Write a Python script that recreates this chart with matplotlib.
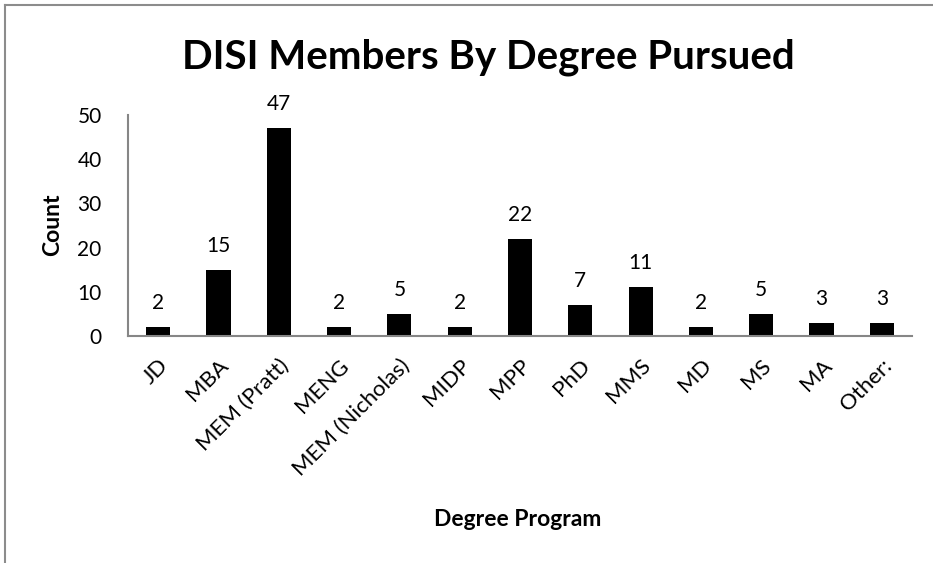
import matplotlib
matplotlib.use('Agg')
import matplotlib.pyplot as plt
from matplotlib.lines import Line2D

plt.rcParams['font.family'] = ['Lato', 'DejaVu Sans']

degrees = ['JD', 'MBA', 'MEM (Pratt)', 'MENG', 'MEM (Nicholas)', 'MIDP', 'MPP',
           'PhD', 'MMS', 'MD', 'MS', 'MA', 'Other:']
counts = [2, 15, 47, 2, 5, 2, 22, 7, 11, 2, 5, 3, 3]
yticks = [0, 10, 20, 30, 40, 50]

W, H = 933, 563
fig = plt.figure(figsize=(W / 100, H / 100), dpi=100)
ax = fig.add_axes([128 / W, 1 - 336 / H, (912 - 128) / W, (336 - 115) / H])

x = range(len(degrees))
bars = ax.bar(x, counts, width=0.4, color='black')
ax.set_xlim(-0.5, len(degrees) - 0.5)
ax.set_ylim(0, 50)
ax.set_yticks(yticks)
ax.set_yticklabels([str(t) for t in yticks], fontsize=15)
ax.set_xticks(list(x))
ax.set_xticklabels(degrees, fontsize=16, rotation=45, ha='right',
                   rotation_mode='anchor')
ax.tick_params(axis='y', length=0, pad=19)
ax.tick_params(axis='x', length=0, pad=14)

for s in ['top', 'right']:
    ax.spines[s].set_visible(False)
for s in ['left', 'bottom']:
    ax.spines[s].set_color('#868686')
    ax.spines[s].set_linewidth(1.5)

for b, v in zip(bars, counts):
    ax.annotate(str(v), (b.get_x() + b.get_width() / 2, v), xytext=(0, 13),
                textcoords='offset points', ha='center', va='baseline', fontsize=15)

fig.text(53 / W, 1 - 225 / H, 'Count', ha='center', va='center', rotation=90,
         fontsize=16.5, fontweight='bold')
fig.text(518 / W, 1 - 519 / H, 'Degree Program', ha='center', va='center',
         fontsize=16.5, fontweight='bold')
fig.text(488 / W, 1 - 57 / H, 'DISI Members By Degree Pursued', ha='center',
         va='center', fontsize=29, fontweight='bold')

# outer chart-area border (only top and left edges show in the crop)
fig.add_artist(Line2D([5 / W, 5 / W], [0, 1 - 5 / H], transform=fig.transFigure,
                      color='#8c8c8c', lw=1.5))
fig.add_artist(Line2D([5 / W, 1], [1 - 5 / H, 1 - 5 / H], transform=fig.transFigure,
                      color='#8c8c8c', lw=1.5))

fig.savefig('out.png', dpi=100)
